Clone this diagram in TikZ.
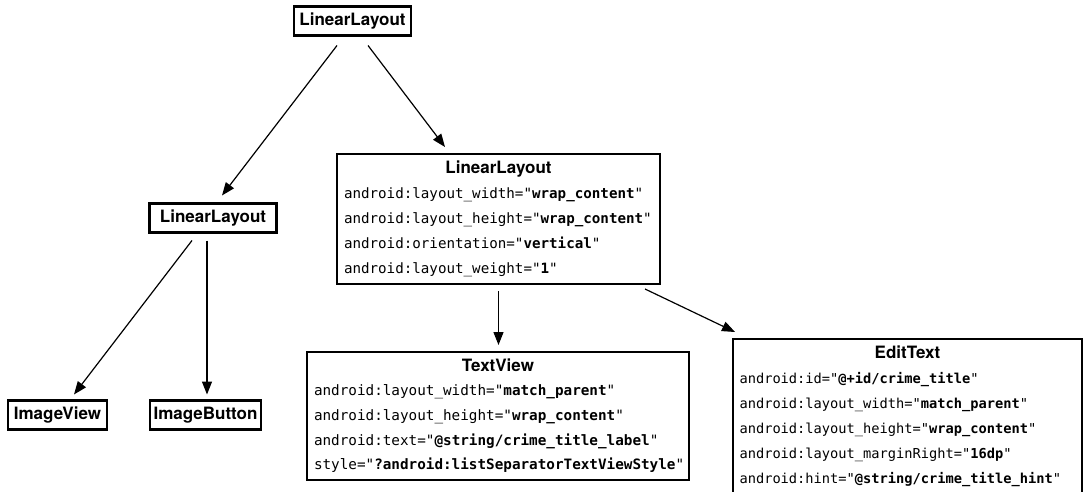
\documentclass[tikz,border=0pt]{standalone}
\usepackage{fontspec}
\setmainfont{TeX Gyre Heros}
\newfontfamily\codefont{DejaVu Sans Mono}
\usetikzlibrary{arrows.meta}
\hyphenpenalty=10000
\exhyphenpenalty=10000

% heading line of a code box, and one attribute line
\newcommand{\boxhead}[1]{\makebox[\linewidth]{\rmfamily\bfseries\fontsize{17}{20}\selectfont #1}}
\newcommand{\xmlattr}[2]{#1="\textbf{#2}"}

\begin{document}
\begin{tikzpicture}[x=1pt, y=-1pt, line width=1.2pt, >={Triangle[length=13pt,width=10pt]},
  every node/.style={draw, line width=2.5pt, outer sep=0pt},
  viewbox/.style={font=\fontsize{17}{20}\selectfont\bfseries, minimum height=29pt, inner sep=0pt},
  codebox/.style={anchor=north west, align=left, inner xsep=7pt, inner ysep=6pt, text height=13pt,
    font=\codefont\fontsize{13.7}{25}\selectfont}]
\useasboundingbox (0,0) rectangle (1086,492);

\node[viewbox, minimum width=117pt] (root) at (352.5,21) {LinearLayout};
\node[viewbox, minimum width=127pt] (icons) at (213,218) {LinearLayout};
\node[viewbox, minimum width=99pt] (iv) at (57.5,415) {ImageView};
\node[viewbox, minimum width=111pt] (ib) at (205.5,415) {ImageButton};

\node[codebox, text width=309pt, text depth=105pt, font=\codefont\fontsize{14.2}{25}\selectfont] (fields) at (337,154) {\boxhead{LinearLayout}\\
\xmlattr{android:layout\_width}{wrap\_content}\\
\xmlattr{android:layout\_height}{wrap\_content}\\
\xmlattr{android:orientation}{vertical}\\
\xmlattr{android:layout\_weight}{1}};

\node[codebox, text width=368pt, text depth=103pt, font=\codefont\fontsize{14.3}{24.7}\selectfont] (tv) at (307,352) {\boxhead{TextView}\\
\xmlattr{android:layout\_width}{match\_parent}\\
\xmlattr{android:layout\_height}{wrap\_content}\\
\xmlattr{android:text}{@string/crime\_title\_label}\\
\xmlattr{style}{?android:listSeparatorTextViewStyle}};

\node[codebox, inner xsep=6.5pt, text width=336pt, text depth=141pt] (et) at (733,339) {\boxhead{EditText}\\
\xmlattr{android:id}{@+id/crime\_title}\\
\xmlattr{android:layout\_width}{match\_parent}\\
\xmlattr{android:layout\_height}{wrap\_content}\\
\xmlattr{android:layout\_marginRight}{16dp}\\
\xmlattr{android:hint}{@string/crime\_title\_hint}};

\draw[->] ([shift={(-15.5,10)}]root.south) -- ([shift={(9,-8)}]icons.north);
\draw[->] ([shift={(15.5,10)}]root.south) -- ([shift={(-53.5,-7)}]fields.north);
\draw[->] ([shift={(-21,8)}]icons.south) -- ([shift={(16.5,-6)}]iv.north);
\draw[->] ([shift={(-6,8)}]icons.south) -- ([shift={(1.5,-6)}]ib.north);
\draw[->] ([shift={(0,7)}]fields.south) -- ([shift={(0.5,-7)}]tv.north);
\draw[->] ([shift={(-15,5)}]fields.south east) -- ([shift={(2,-7)}]et.north west);
\end{tikzpicture}
\end{document}
